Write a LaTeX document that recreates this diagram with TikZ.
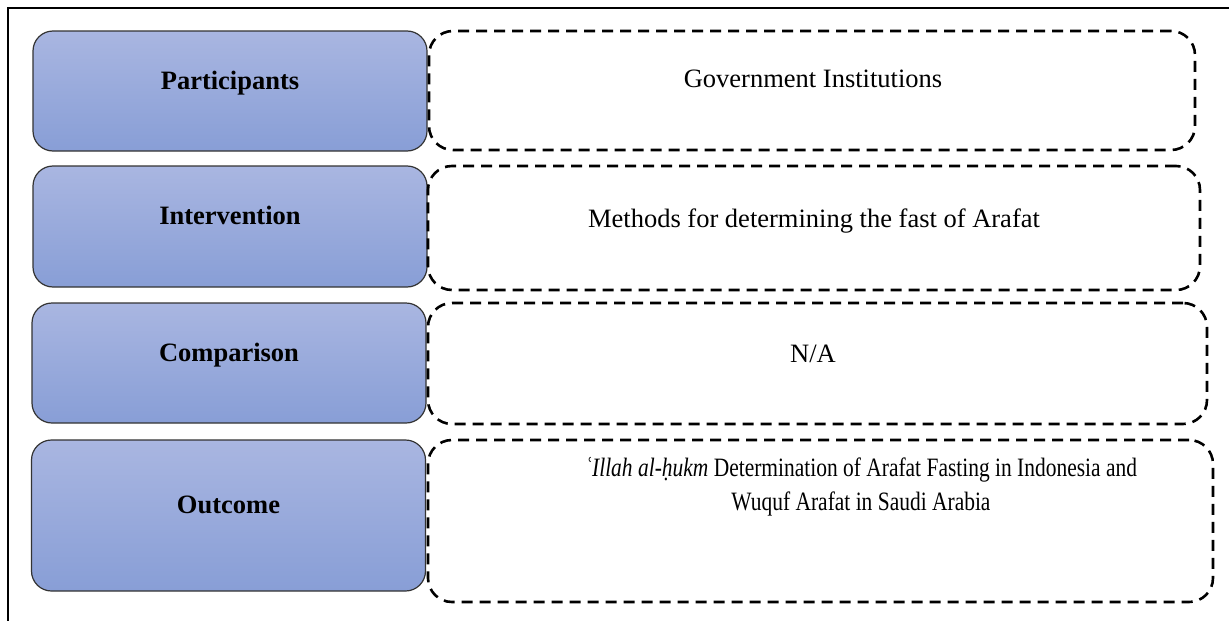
\documentclass[tikz,border=0pt]{standalone}
\usepackage{fontspec}
\setmainfont{Liberation Serif}
\usetikzlibrary{positioning}

\definecolor{picotop}{RGB}{169,182,225}
\definecolor{picobot}{RGB}{136,158,214}

\begin{document}
\begin{tikzpicture}[x=1pt,y=-1pt,
	pico/.style={draw=black!80,line width=1.2pt,rounded corners=20pt,top color=picotop,bottom color=picobot,minimum width=394pt,inner sep=0pt},
	detail/.style={draw=black,line width=2.6pt,dash pattern=on 11pt off 7pt,rounded corners=24pt,inner sep=0pt},
	txt/.style={font=\fontsize{26.5}{34}\selectfont,anchor=base,align=center},
	head/.style={txt,font=\fontsize{26.5}{34}\selectfont\bfseries}]
	\useasboundingbox (0,0) rectangle (1229,621);
	\draw[line width=2.2pt] (8,621) -- (8,8) -- (1229,8);

	% left column
	\node[pico,minimum height=120pt] (p) at (230,91) {};
	\node[pico,minimum height=121pt] (i) at (230,226.5) {};
	\node[pico,minimum height=120pt] (c) at (229,363) {};
	\node[pico,minimum height=151pt] (o) at (228.5,515.5) {};

	% right column
	\node[detail,minimum width=766pt,minimum height=119pt] (p_d) at (812,90.5) {};
	\node[detail,minimum width=772pt,minimum height=124pt] (i_d) at (814,228) {};
	\node[detail,minimum width=779pt,minimum height=121pt] (c_d) at (817.5,363.5) {};
	\node[detail,minimum width=785pt,minimum height=162pt] (o_d) at (820.5,521) {};

	\node[head] (p_t) at ([yshift=2pt]p.center) {Participants};
	\node[head] (i_t) at ([yshift=2pt]i.center) {Intervention};
	\node[head] (c_t) at ([yshift=2pt]c.center) {Comparison};
	\node[head] (o_t) at ([yshift=2pt]o.center) {Outcome};

	\node[txt] (p_v) at (813,87) {Government Institutions};
	\node[txt] (i_v) at (814,227) {Methods for determining the fast of Arafat};
	\node[txt] (c_v) at (813,362) {N/A};
	\node[txt,anchor=center,font=\fontsize{26.5}{34}\selectfont\addfontfeatures{FakeStretch=0.81}] (o_v) at (861,487) {\textit{ʿIllah al-ḥukm} Determination of Arafat Fasting in Indonesia and\\Wuquf Arafat in Saudi Arabia};
\end{tikzpicture}
\end{document}
